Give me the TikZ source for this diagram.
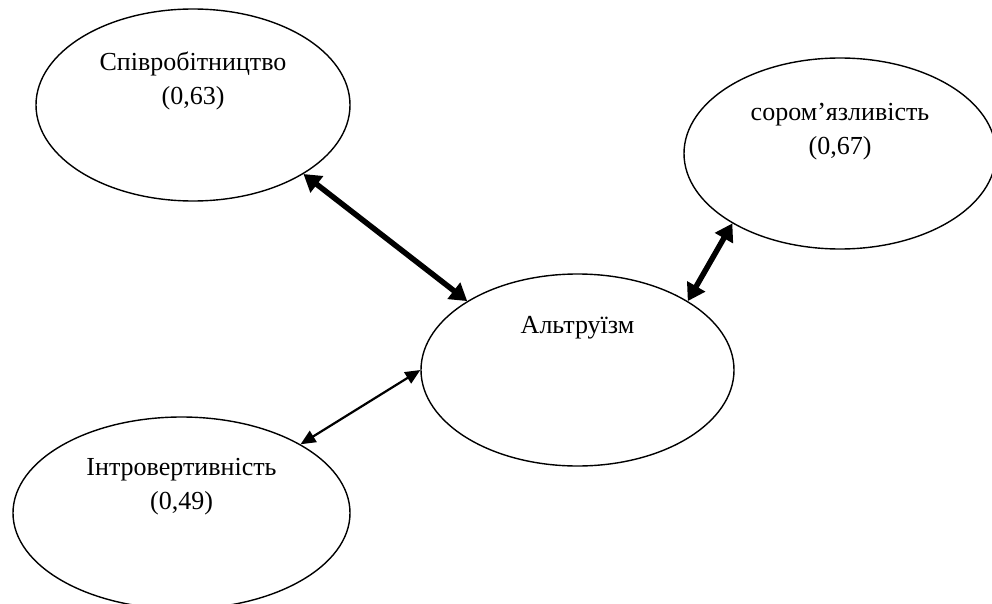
\documentclass[tikz,border=0pt]{standalone}
\usepackage{fontspec}
\setmainfont{Liberation Serif}
\usetikzlibrary{shapes.geometric,arrows.meta,calc}
\begin{document}
\begin{tikzpicture}[x=1pt,y=-1pt,
  ell/.style={draw=black,line width=1.4pt,ellipse,inner sep=0pt},
  lbl/.style={align=center,font=\fontsize{26}{34}\selectfont,inner sep=0pt},
  thickarrow/.style={line width=5.5pt,{Triangle[length=17pt,width=20pt]}-{Triangle[length=17pt,width=20pt]}},
  thinarrow/.style={line width=2.2pt,{Triangle[length=15pt,width=13pt]}-{Triangle[length=15pt,width=13pt]}}]
\useasboundingbox (0,0) rectangle (992,604);
\clip (0,0) rectangle (992,604);
\fill[white] (0,0) rectangle (992,604);
\node[ell,minimum width=314pt,minimum height=192pt] (e1) at (193,105) {};
\node[ell,minimum width=312pt,minimum height=191pt] (e2) at (840,153.5) {};
\node[ell,minimum width=313pt,minimum height=192pt] (e3) at (577.5,370) {};
\node[ell,minimum width=337pt,minimum height=192pt] (e4) at (181.5,513) {};
\node[lbl] (t1) at ($(e1.center)+(0,-24)$) {Співробітництво\\(0,63)};
\node[lbl] (t2) at ($(e2.center)+(0,-22)$) {сором’язливість\\(0,67)};
\node[lbl] (t3) at ($(e3.center)+(0,-42)$) {Альтруїзм};
\node[lbl] (t4) at ($(e4.center)+(0,-26)$) {Інтровертивність\\(0,49)};
\draw[thickarrow] (e1.-32) -- (e3.148);
\draw[thickarrow] (e2.-147) -- (e3.32);
\draw[thinarrow] (e4.30) -- (e3.180);
\end{tikzpicture}
\end{document}
